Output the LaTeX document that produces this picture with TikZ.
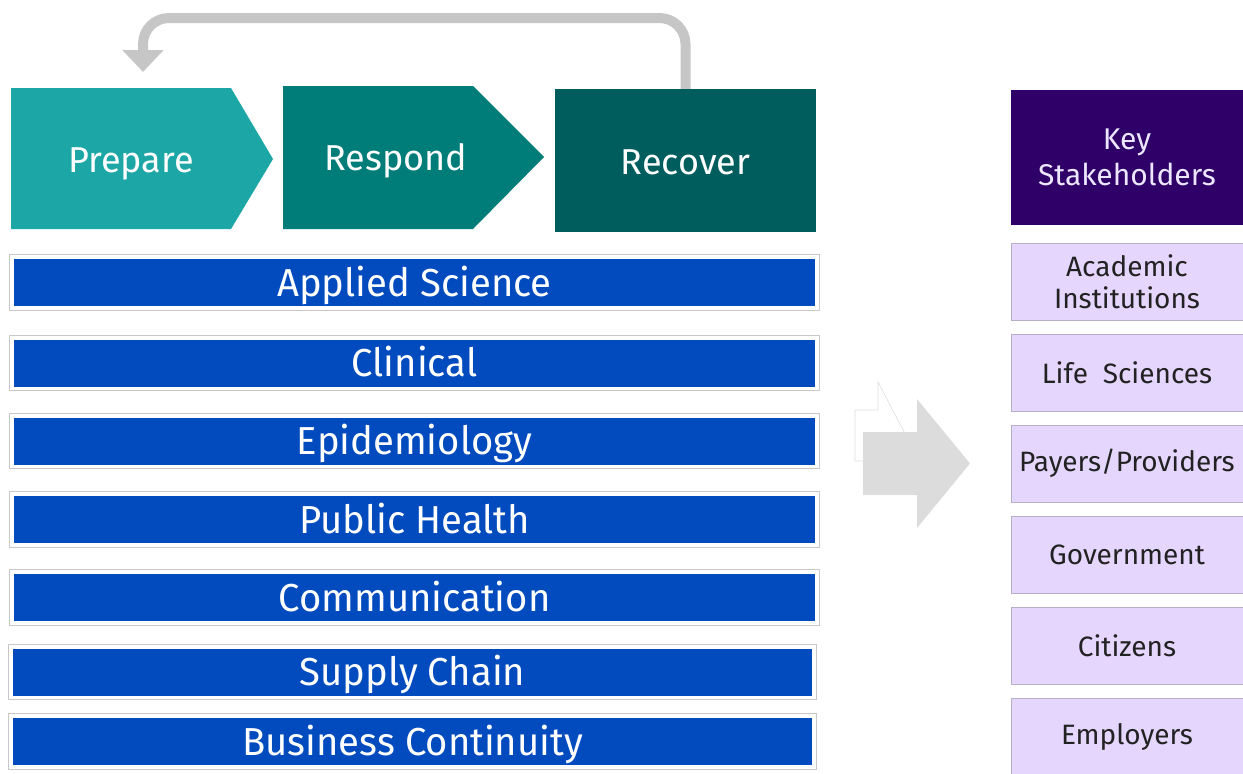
\documentclass[tikz,border=0pt]{standalone}
\usepackage{fontspec}
\setmainfont{Fira Sans}
\newfontfamily\barfont[FakeStretch=0.98]{Fira Sans}
\newfontfamily\chevfont{Fira Sans}
\usetikzlibrary{arrows.meta}
\definecolor{prepc}{HTML}{1CA6A6}
\definecolor{respc}{HTML}{007D79}
\definecolor{recc}{HTML}{005D5D}
\definecolor{barblue}{HTML}{014BBF}
\definecolor{framegray}{HTML}{C8C8C8}
\definecolor{loopgray}{HTML}{C6C6C6}
\definecolor{biggray}{HTML}{DCDCDC}
\definecolor{keyc}{HTML}{2E0068}
\definecolor{lilac}{HTML}{E5D6FE}
\definecolor{lilacborder}{HTML}{B8AEC6}
\definecolor{keytext}{HTML}{EDE6FF}
\definecolor{darktext}{HTML}{222222}
\begin{document}
\begin{tikzpicture}[x=1pt,y=-1pt,
  chevtext/.style={text=white,inner sep=0,anchor=base,font=\chevfont\fontsize{36}{36}\selectfont},
  bar/.style={fill=barblue,text=white,minimum width=801,minimum height=47,inner sep=0,
    text height=37pt,text depth=10pt,font=\barfont\fontsize{39}{39}\selectfont},
  shortbar/.style={bar,minimum width=799},
  frame/.style={draw=framegray,line width=1.2pt},
  loopline/.style={draw=loopgray,line width=10pt,rounded corners=26pt,
    -{Triangle[width=40pt,length=22pt]}},
  keybox/.style={fill=keyc,text=keytext,minimum width=232,minimum height=135,inner sep=0,
    align=center,font=\fontsize{30}{36}\selectfont},
  sbox/.style={fill=lilac,draw=lilacborder,line width=0.8pt,text=darktext,minimum width=232,
    minimum height=77,inner sep=0,align=center,font=\fontsize{28}{32}\selectfont}
]
\useasboundingbox (0,0) rectangle (1243,774);

% phases
\fill[prepc] (11,88) -- (231,88) -- (273,159) -- (231,229) -- (11,229) -- cycle;
\node[chevtext] (prep) at (131,172) {Prepare};
\fill[respc] (283,86) -- (473,86) -- (544,157) -- (473,229) -- (283,229) -- cycle;
\node[chevtext] (resp) at (396,170) {Respond};
\node[fill=recc,minimum width=261,minimum height=143,inner sep=0,text=white,
  text height=85pt,text depth=58pt,
  font=\chevfont\fontsize{36}{36}\selectfont] (rec) at (685.5,160.5) {Recover};

% loop arrow
\coordinate (looptip) at (143,72);
\draw[loopline] (rec.north) -- (685.5,18) -- (143,18) -- (looptip);

% bars
\node[bar] (b1) at (414.5,282.5) {Applied Science};
\node[bar] (b2) at (414.5,363) {Clinical};
\node[bar] (b3) at (414.5,441) {Epidemiology};
\node[bar] (b4) at (414.5,519.5) {Public Health};
\node[bar] (b5) at (414.5,597.5) {Communication};
\node[shortbar] (b6) at (412.5,672) {Supply Chain};
\node[shortbar] (b7) at (412.5,741.5) {Business Continuity};
\foreach \b in {b1,b2,b3,b4,b5,b6,b7}{
  \draw[frame] ([xshift=-4pt,yshift=4pt]\b.north west) rectangle ([xshift=4pt,yshift=-4pt]\b.south east);
}

% big arrow
\filldraw[fill=white,draw=framegray!60,line width=0.6pt]
  (855,410) -- (878,410) -- (878,382) -- (906,435.5) -- (878,489) -- (878,461) -- (855,461) -- cycle;
\fill[biggray] (863,432) -- (917,432) -- (917,399) -- (970,463.5) -- (917,528) -- (917,495) -- (863,495) -- cycle;

% stakeholders
\node[keybox] (key) at (1127,157.5) {Key\\Stakeholders};
\node[sbox] (s1) at (1127,281.5) {Academic\\Institutions};
\node[sbox] (s2) at (1127,372.5) {Life\ \ Sciences};
\node[sbox] (s3) at (1127,463.5) {Payers/Providers};
\node[sbox] (s4) at (1127,554.5) {Government};
\node[sbox] (s5) at (1127,646) {Citizens};
\node[sbox] (s6) at (1127,736.5) {Employers};
\end{tikzpicture}
\end{document}
